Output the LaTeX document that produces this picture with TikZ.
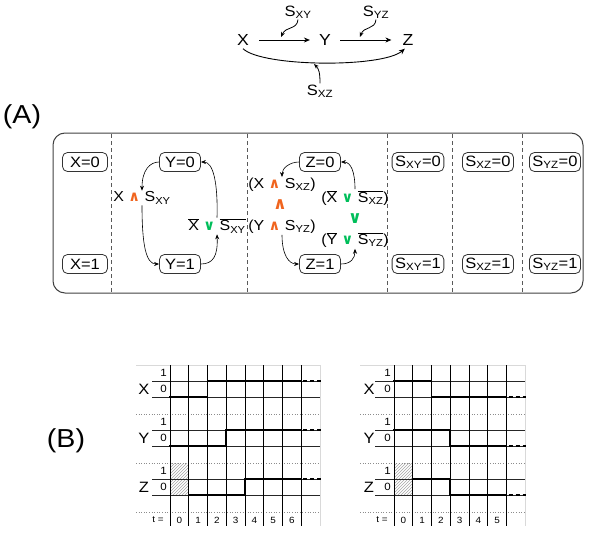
\documentclass[tikz,border=0pt]{standalone}
\usepackage{fontspec}
\setmainfont[FakeStretch=1.1]{Liberation Sans}
\newfontfamily\symf{DejaVu Sans}
\usetikzlibrary{arrows.meta,patterns}
\definecolor{orng}{RGB}{240,100,30}
\definecolor{grn}{RGB}{0,190,90}
\newcommand\Sv[1]{S\textsubscript{#1}}
\newcommand\nS[1]{$\overline{\mbox{S\textsubscript{#1}}}$}
\newcommand\nV[1]{$\overline{\mbox{#1}}$}
\newcommand\andop{{\color{orng}\symf\bfseries ∧}}
\newcommand\orop{{\color{grn}\symf\bfseries ∨}}
\begin{document}
\begin{tikzpicture}[x=1pt,y=-1pt,
  every node/.style={font=\fontsize{15}{17}\selectfont},
  st/.style={draw=black!80, line width=0.8pt, rounded corners=5pt, minimum height=19pt, minimum width=41pt, inner xsep=3pt, inner ysep=1pt},
  lab/.style={inner sep=1pt, font=\fontsize{14.5}{17}\selectfont},
  con/.style={-{Stealth[length=5pt,width=4pt]}, line width=0.6pt},
  topar/.style={-{Stealth[length=6pt,width=5pt]}, line width=0.9pt},
  divider/.style={dash pattern=on 4pt off 3pt, draw=black!65, line width=0.8pt},
  dotg/.style={draw=black!45, dotted, line width=0.6pt},
  hl/.style={draw=black!85, line width=0.6pt},
  vl/.style={draw=black, line width=0.7pt},
  lightg/.style={draw=black!15, line width=0.6pt},
  wave/.style={line width=1.8pt, line cap=rect},
  wdash/.style={line width=1.8pt, dash pattern=on 4pt off 3pt, dash phase=-2pt},
  lvl/.style={anchor=east, inner sep=1pt, font=\fontsize{10.5}{12}\selectfont},
  tl/.style={inner sep=0pt, font=\fontsize{9}{11}\selectfont},
  big/.style={font=\fontsize{26}{28}\selectfont}]
\useasboundingbox (0,0) rectangle (600,533);
% ---------- top diagram
\node[inner sep=3pt, font=\fontsize{16}{18}\selectfont] (X) at (243,40) {X};
\node[inner sep=3pt, font=\fontsize{16}{18}\selectfont] (Y) at (325,40) {Y};
\node[inner sep=3pt, font=\fontsize{16}{18}\selectfont] (Z) at (408,40) {Z};
\draw[topar, shorten <=7pt, shorten >=6pt] (X) -- (Y);
\draw[topar, shorten <=6pt, shorten >=8pt] (Y) -- (Z);
\draw[topar] (X.south) .. controls (262,67) and (382,68) .. (Z.250);
\node[lab, font=\fontsize{15}{17}\selectfont] (sxy) at (298,12) {\Sv{XY}};
\node[lab, font=\fontsize{15}{17}\selectfont] (syz) at (376,12) {\Sv{YZ}};
\node[lab, font=\fontsize{15}{17}\selectfont] (sxz) at (320,91) {\Sv{XZ}};
\coordinate (pxy) at (281,37);
\coordinate (pyz) at (360,37);
\coordinate (pxz) at (314,64);
\draw[con, line width=0.8pt] (sxy.south) .. controls (297,30) and (286,26) .. (pxy);
\draw[con, line width=0.8pt] (syz.south) .. controls (375,30) and (364,26) .. (pyz);
\draw[con, line width=0.8pt] (sxz.north) .. controls (320,73) and (319,69) .. (pxz);
% ---------- (A)
\node[big] (labA) at (22,117) {(A)};
\draw[line width=1pt, draw=black!75, rounded corners=12pt] (53,133) rectangle (583,293);
\foreach \xx in {111,247,387,452,522} \draw[divider] (\xx,134) -- (\xx,292);
\node[st, minimum width=45pt] (x0) at (85,162) {X=0};
\node[st, minimum width=45pt] (x1) at (85,264) {X=1};
\node[st] (y0) at (180,162) {Y=0};
\node[st] (y1) at (180,264) {Y=1};
\node[st] (z0) at (320,162) {Z=0};
\node[st] (z1) at (320,264) {Z=1};
\node[st, minimum width=50pt] (sxy0) at (418,162) {\Sv{XY}=0};
\node[st, minimum width=50pt] (sxy1) at (418,264) {\Sv{XY}=1};
\node[st, minimum width=50pt] (sxz0) at (488,162) {\Sv{XZ}=0};
\node[st, minimum width=50pt] (sxz1) at (488,264) {\Sv{XZ}=1};
\node[st, minimum width=48pt] (syz0) at (555,162) {\Sv{YZ}=0};
\node[st, minimum width=48pt] (syz1) at (555,264) {\Sv{YZ}=1};
% Y transitions
\node[lab] (lxy) at (142,198) {X \andop{} \Sv{XY}};
\node[lab] (rxy) at (217,226) {\nV{X} \orop{} \nS{XY}};
\draw[con] (y0.west) .. controls (150,162) and (142,170) .. (lxy.north);
\draw[con] (lxy.south) .. controls (142,245) and (146,264) .. (y1.west);
\draw[con] (y1.east) .. controls (213,264) and (218,256) .. (rxy.south);
\draw[con] (rxy.north) .. controls (218,182) and (213,162) .. (y0.east);
% Z transitions
\node[lab] (za) at (282,185) {(X \andop{} \Sv{XZ})};
\node[inner sep=0pt, text=orng, font=\fontsize{17}{18}\selectfont\symf\bfseries] (zand) at (280,205) {∧};
\node[lab] (zb) at (282,227) {(Y \andop{} \Sv{YZ})};
\node[lab] (zc) at (355,198) {(\nV{X} \orop{} \nS{XZ})};
\node[inner sep=0pt, text=grn, font=\fontsize{17}{18}\selectfont\symf\bfseries] (zor) at (355,219) {∨};
\node[lab] (zd) at (355,240) {(\nV{Y} \orop{} \nS{YZ})};
\draw[con] (z0.west) .. controls (290,162) and (282,168) .. (za.north);
\draw[con] (zb.south) .. controls (282,255) and (289,264) .. (z1.west);
\draw[con] (z1.east) .. controls (351,264) and (355,258) .. (zd.south);
\draw[con] (zc.north) .. controls (355,172) and (351,162) .. (z0.east);
% ---------- (B)
\node[big] (labB) at (66,441) {(B)};
% left chart
\fill[pattern=north east lines, pattern color=black!35] (170,463) rectangle (188.75,495);
\draw[lightg] (136,365) -- (320,365) -- (320,526);
\foreach \yy in {414,463,512} \draw[dotg] (136,\yy) -- (320,\yy);
\foreach \yy in {381,397,430,446,479,495} \draw[hl] (152,\yy) -- (320,\yy);
\foreach \i in {0,...,7} \draw[vl] (170+\i*18.75,365) -- (170+\i*18.75,526);
\node (lX) at (144,389) {X};
\node (lY) at (144,438) {Y};
\node (lZ) at (144,487) {Z};
\foreach \yy in {0,49,98} {
  \node[lvl] at (168,373+\yy) {1};
  \node[lvl] at (168,389+\yy) {0};
}
\node[tl] (lt) at (158,520) {t =};
\foreach \i in {0,...,6} \node[tl] at (179.375+\i*18.75,520) {\i};
\draw[wave] (170,397) -- (207.5,397) -- (207.5,381) -- (301.25,381);
\draw[wave] (170,446) -- (226.25,446) -- (226.25,430) -- (301.25,430);
\draw[wave] (188.75,495) -- (245,495) -- (245,479) -- (301.25,479);
\foreach \yy in {381,430,479} \draw[wdash] (301.25,\yy) -- (321,\yy);
% right chart
\fill[pattern=north east lines, pattern color=black!35] (394,463) rectangle (412.75,495);
\draw[lightg] (360,365) -- (525.25,365) -- (525.25,526);
\foreach \yy in {414,463,512} \draw[dotg] (360,\yy) -- (525.25,\yy);
\foreach \yy in {381,397,430,446,479,495} \draw[hl] (375,\yy) -- (525.25,\yy);
\foreach \i in {0,...,6} \draw[vl] (394+\i*18.75,365) -- (394+\i*18.75,526);
\node (rX) at (369,389) {X};
\node (rY) at (369,438) {Y};
\node (rZ) at (369,487) {Z};
\foreach \yy in {0,49,98} {
  \node[lvl] at (392,373+\yy) {1};
  \node[lvl] at (392,389+\yy) {0};
}
\node[tl] (rt) at (382,520) {t =};
\foreach \i in {0,...,5} \node[tl] at (403.375+\i*18.75,520) {\i};
\draw[wave] (394,381) -- (431.5,381) -- (431.5,397) -- (506.5,397);
\draw[wave] (394,430) -- (450.25,430) -- (450.25,446) -- (506.5,446);
\draw[wave] (412.75,479) -- (450.25,479) -- (450.25,495) -- (506.5,495);
\foreach \yy in {397,446,495} \draw[wdash] (506.5,\yy) -- (526,\yy);
\end{tikzpicture}
\end{document}
